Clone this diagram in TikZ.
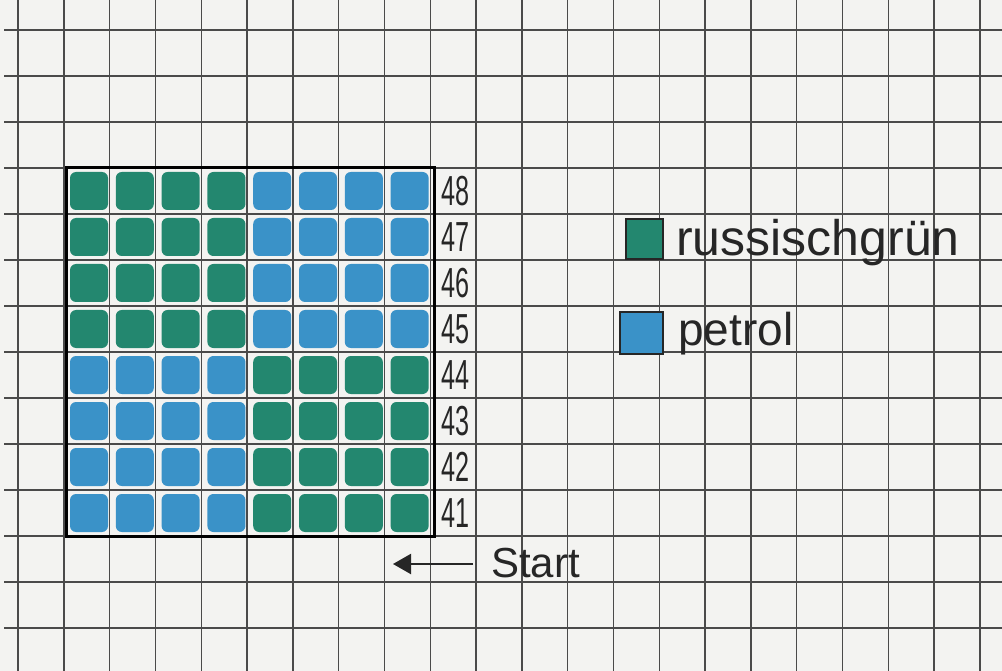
\documentclass[tikz,border=0pt]{standalone}
\usepackage{fontspec}
\setmainfont{Liberation Sans}
\usetikzlibrary{arrows.meta}
\definecolor{paper}{HTML}{F3F3F1}
\definecolor{gridcol}{HTML}{4A4A4A}
\definecolor{rgreen}{HTML}{23876F}
\definecolor{petrolc}{HTML}{3A92C8}
\definecolor{ink}{HTML}{262626}
\tikzset{
  gridline/.style={draw=gridcol, line width=1.4pt},
  frameline/.style={draw=black, line width=3pt},
  greencell/.style={fill=rgreen, rounded corners=6pt},
  bluecell/.style={fill=petrolc, rounded corners=6pt},
  rowlabel/.style={text=ink, font=\fontsize{42}{42}\selectfont, inner sep=0pt, anchor=west},
  legendtext/.style={text=ink, inner sep=0pt, anchor=west},
  legendbox/.style={draw=ink, line width=1.6pt},
  startarrow/.style={draw=ink, line width=2.2pt, -{Triangle[length=18pt,width=20pt]}}
}
\begin{document}
\begin{tikzpicture}[x=1pt,y=-1pt]
\useasboundingbox (0,0) rectangle (1002,671);
\fill[paper] (0,0) rectangle (1002,671);
% coloured cells
\foreach \c in {0,...,3} \foreach \r in {0,...,3}
  \fill[greencell] ({66+45.8*\c+4},{168+46*\r+4}) rectangle ({66+45.8*\c+42},{168+46*\r+42});
\foreach \c in {4,...,7} \foreach \r in {0,...,3}
  \fill[bluecell] ({66+45.8*\c+4},{168+46*\r+4}) rectangle ({66+45.8*\c+42},{168+46*\r+42});
\foreach \c in {0,...,3} \foreach \r in {4,...,7}
  \fill[bluecell] ({66+45.8*\c+4},{168+46*\r+4}) rectangle ({66+45.8*\c+42},{168+46*\r+42});
\foreach \c in {4,...,7} \foreach \r in {4,...,7}
  \fill[greencell] ({66+45.8*\c+4},{168+46*\r+4}) rectangle ({66+45.8*\c+42},{168+46*\r+42});
% grid
\foreach \i in {0,...,21}
  \draw[gridline] ({18+45.8*\i},0) -- ({18+45.8*\i},671);
\foreach \j in {0,...,13}
  \draw[gridline] (4,{30+46*\j}) -- (1002,{30+46*\j});
% frame
\draw[frameline] (66,168) rectangle (434.4,536);
% row labels
\foreach \n [count=\k from 0] in {48,47,46,45,44,43,42,41}
  \node[rowlabel] (r\n) at (441,{191+46*\k}) {\scalebox{0.6}[1]{\n}};
% legend
\fill[rgreen] (627,220) rectangle (662,258);
\draw[legendbox] (626,219) rectangle (663,259);
\node[legendtext, font=\fontsize{50}{50}\selectfont] (lgreen) at (676,243) {russischgrün};
\fill[petrolc] (621,313) rectangle (662,353);
\draw[legendbox] (620,312) rectangle (663,354);
\node[legendtext, font=\fontsize{46}{46}\selectfont] (lpetrol) at (678,334) {petrol};
% start
\node[legendtext, font=\fontsize{42}{42}\selectfont] (start) at (491,563) {Start};
\coordinate (tail) at (473,564);
\coordinate (tip) at (393,564);
\draw[startarrow] (tail) -- (tip);
\end{tikzpicture}
\end{document}
